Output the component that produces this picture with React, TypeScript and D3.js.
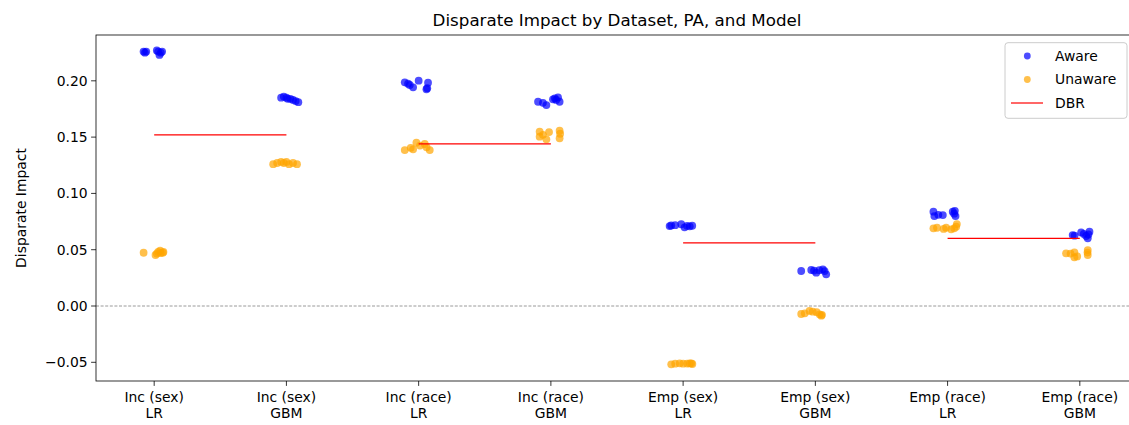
import React from "react";
import * as d3 from "d3";

// categories on the x axis (two-line labels)
const categories = [
  ["Inc (sex)", "LR"],
  ["Inc (sex)", "GBM"],
  ["Inc (race)", "LR"],
  ["Inc (race)", "GBM"],
  ["Emp (sex)", "LR"],
  ["Emp (sex)", "GBM"],
  ["Emp (race)", "LR"],
  ["Emp (race)", "GBM"],
];

// per category: strip jitter (category units) and disparate impact values
const awareJitter = [
  [-0.08, -0.07, -0.06, 0.02, 0.03, 0.04, 0.05, 0.06],
  [-0.04, -0.02, 0, 0.01, 0.03, 0.05, 0.07, 0.09],
  [-0.105, -0.08, -0.067, -0.042, 0, 0.071, 0.059, 0.065],
  [-0.097, -0.06, -0.034, 0.016, 0.03, 0.054, 0.066, 0.04],
  [-0.102, -0.09, -0.06, -0.014, 0.011, 0.03, 0.069, 0.05],
  [-0.107, -0.031, -0.01, 0.007, 0.03, 0.057, 0.07, 0.082],
  [-0.107, -0.1, -0.036, 0.039, 0.06, 0.05, -0.07, 0.055],
  [-0.054, 0.01, 0.048, 0.073, 0.06, 0.03, 0.065, -0.04],
];
const awareValues = [
  [0.226, 0.225, 0.226, 0.227, 0.226, 0.223, 0.225, 0.226],
  [0.185, 0.186, 0.185, 0.184, 0.184, 0.183, 0.182, 0.181],
  [0.1987, 0.1975, 0.1963, 0.1942, 0.2001, 0.1983, 0.1925, 0.1935],
  [0.1814, 0.1805, 0.1785, 0.1836, 0.1845, 0.1853, 0.1814, 0.183],
  [0.071, 0.0715, 0.0718, 0.0726, 0.0699, 0.0712, 0.0713, 0.0708],
  [0.0311, 0.032, 0.0315, 0.0296, 0.0318, 0.0326, 0.031, 0.0281],
  [0.0838, 0.0799, 0.0808, 0.0838, 0.0799, 0.082, 0.081, 0.0845],
  [0.063, 0.0654, 0.0622, 0.066, 0.0601, 0.064, 0.0635, 0.0625],
];
const unawareJitter = [
  [-0.08, 0.01, 0.03, 0.045, 0.05, 0.065, 0.07, 0.02],
  [-0.1, -0.07, -0.04, -0.02, 0, 0.02, 0.05, 0.08],
  [-0.105, -0.06, -0.042, -0.017, 0.01, 0.046, 0.084, 0.06],
  [-0.085, -0.085, -0.06, -0.034, -0.014, 0.066, 0.066, 0.07],
  [-0.09, -0.06, -0.026, 0, 0.03, 0.05, 0.062, 0.07],
  [-0.107, -0.08, -0.044, -0.02, 0.01, 0.032, 0.045, 0.05],
  [-0.107, -0.08, -0.011, 0.027, 0.07, 0.05, -0.03, 0.065],
  [-0.104, -0.041, -0.041, 0.06, 0.06, -0.07, -0.02, 0.058],
];
const unawareValues = [
  [0.0473, 0.0453, 0.048, 0.0491, 0.047, 0.0473, 0.048, 0.0465],
  [0.126, 0.127, 0.128, 0.127, 0.128, 0.126, 0.127, 0.126],
  [0.1385, 0.1405, 0.1392, 0.145, 0.1425, 0.1439, 0.1385, 0.141],
  [0.1548, 0.1504, 0.152, 0.148, 0.1545, 0.1557, 0.149, 0.153],
  [-0.0518, -0.0512, -0.0509, -0.0512, -0.0511, -0.051, -0.0509, -0.0515],
  [-0.0071, -0.0065, -0.0044, -0.005, -0.0055, -0.0074, -0.0086, -0.0078],
  [0.069, 0.0695, 0.0696, 0.0681, 0.0728, 0.069, 0.0685, 0.0705],
  [0.0468, 0.0432, 0.0477, 0.0497, 0.0453, 0.0465, 0.044, 0.0475],
];

// DBR reference per dataset/PA pair, spanning the LR and GBM columns
const dbrPairs = [[0, 1], [2, 3], [4, 5], [6, 7]];
const dbrValues = [0.152, 0.144, 0.056, 0.06];

const yTicks = [-0.05, 0, 0.05, 0.1, 0.15, 0.2];

const W = 1129;
const H = 425;
const margin = { top: 35, right: -9, bottom: 44, left: 96 };
const FONT = "DejaVu Sans, sans-serif";

const App = () => {
  const x = d3.scaleLinear().domain([-0.44, 7.44]).range([margin.left, W - margin.right]);
  const y = d3.scaleLinear().domain([-0.0666, 0.2407]).range([H - margin.bottom, margin.top]);
  const top = margin.top;
  const bottom = H - margin.bottom;
  const left = margin.left;
  const right = W - margin.right;

  const series = [
    { name: "Aware", color: "#0000ff", jitter: awareJitter, values: awareValues },
    { name: "Unaware", color: "#ffa500", jitter: unawareJitter, values: unawareValues },
  ];

  return (
    <svg width={W} height={H} style={{ position: "absolute", left: 0, top: 0, background: "#fff" }} fontFamily={FONT}>
      <rect x={0} y={0} width={W} height={H} fill="#fff" />
      {/* zero reference */}
      <line x1={left} x2={right} y1={y(0)} y2={y(0)} stroke="#808080" strokeWidth={0.8} strokeDasharray="3,1.6" />

      {series.map((s) => (
        <g key={s.name}>
          {s.values.map((vals, ci) =>
            vals.map((v, k) => (
              <circle key={ci + "-" + k} cx={x(ci + s.jitter[ci][k])} cy={y(v)} r={3.9} fill={s.color} fillOpacity={0.7} />
            ))
          )}
        </g>
      ))}

      {dbrPairs.map(([a, b], i) => (
        <line key={i} x1={x(a)} x2={x(b)} y1={y(dbrValues[i])} y2={y(dbrValues[i])} stroke="#ff0000" strokeWidth={1.2} />
      ))}

      {/* frame */}
      <rect x={left} y={top} width={right - left} height={bottom - top} fill="none" stroke="#000" strokeWidth={0.8} />

      {/* y axis */}
      {yTicks.map((t) => (
        <g key={t} transform={`translate(0,${y(t)})`}>
          <line x1={left - 4.9} x2={left} stroke="#000" strokeWidth={0.8} />
          <text x={left - 8.4} dy="0.35em" textAnchor="end" fontSize={13.9} fill="#000">
            {d3.format(".2f")(t).replace("-", "\u2212")}
          </text>
        </g>
      ))}
      <text transform={`translate(26,${(top + bottom) / 2}) rotate(-90)`} textAnchor="middle" fontSize={13.9} fill="#000">
        Disparate Impact
      </text>

      {/* x axis */}
      {categories.map((c, i) => (
        <g key={i} transform={`translate(${x(i)},${bottom})`}>
          <line y1={0} y2={4.9} stroke="#000" strokeWidth={0.8} />
          <text y={20.5} textAnchor="middle" fontSize={13.9} fill="#000">{c[0]}</text>
          <text y={37.2} textAnchor="middle" fontSize={13.9} fill="#000">{c[1]}</text>
        </g>
      ))}

      <text x={(left + right) / 2} y={25.5} textAnchor="middle" fontSize={16.7} fill="#000">
        Disparate Impact by Dataset, PA, and Model
      </text>

      {/* legend */}
      <g>
        <rect x={1005} y={42.7} width={122} height={75.6} rx={3} fill="#fff" fillOpacity={0.8} stroke="#cccccc" strokeWidth={1} />
        {series.map((s, i) => (
          <g key={s.name} transform={`translate(0,${56 + i * 23.5})`}>
            <circle cx={1027.3} cy={0} r={3.4} fill={s.color} fillOpacity={0.7} />
            <text x={1055} dy="0.35em" fontSize={13.9} fill="#000">{s.name}</text>
          </g>
        ))}
        <line x1={1011} x2={1043} y1={103} y2={103} stroke="#ff0000" strokeWidth={1.2} />
        <text x={1055} y={103} dy="0.35em" fontSize={13.9} fill="#000">DBR</text>
      </g>
    </svg>
  );
};

export default App;
